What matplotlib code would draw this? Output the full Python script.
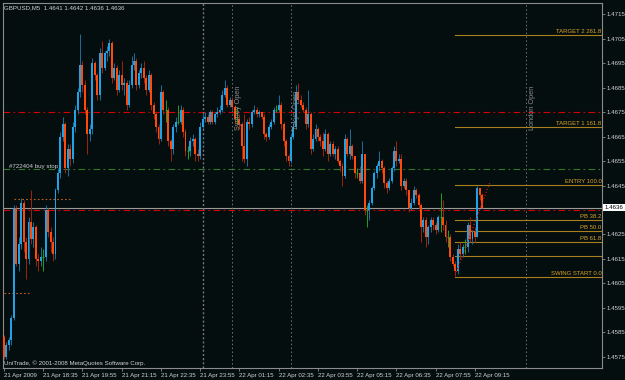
import numpy as np
import matplotlib.pyplot as plt
from matplotlib.transforms import blended_transform_factory

plt.rcParams['font.family'] = ['Liberation Sans', 'DejaVu Sans']

# GBPUSD M5 candles, 21 Apr 17:15 -> 22 Apr 09:30 (open of each bar = previous close)
first_open = 1.4583
close = [1.4575, 1.4580, 1.4582, 1.4591, 1.4636, 1.4613, 1.4621, 1.4638, 1.4622, 1.4615,
         1.4630, 1.4623, 1.4628, 1.4615, 1.4614, 1.4616, 1.4616, 1.4635, 1.4626, 1.4622,
         1.4617, 1.4643, 1.4650, 1.4665, 1.4670, 1.4652, 1.4660, 1.4656, 1.4669, 1.4676,
         1.4683, 1.4694, 1.4686, 1.4676, 1.4666, 1.4668, 1.4695, 1.4690, 1.4682, 1.4699,
         1.4693, 1.4699, 1.4700, 1.4703, 1.4689, 1.4693, 1.4684, 1.4690, 1.4686, 1.4687,
         1.4678, 1.4686, 1.4694, 1.4696, 1.4686, 1.4691, 1.4693, 1.4689, 1.4684, 1.4690,
         1.4678, 1.4674, 1.4669, 1.4664, 1.4683, 1.4676, 1.4676, 1.4663, 1.4660, 1.4669,
         1.4671, 1.4671, 1.4676, 1.4667, 1.4659, 1.4659, 1.4663, 1.4664, 1.4658, 1.4657,
         1.4669, 1.4672, 1.4673, 1.4671, 1.4675, 1.4671, 1.4674, 1.4675, 1.4676, 1.4682,
         1.4685, 1.4678, 1.4680, 1.4677, 1.4672, 1.4672, 1.4670, 1.4661, 1.4656, 1.4671,
         1.4670, 1.4675, 1.4676, 1.4674, 1.4675, 1.4673, 1.4666, 1.4665, 1.4669, 1.4671,
         1.4676, 1.4676, 1.4678, 1.4670, 1.4663, 1.4657, 1.4655, 1.4665, 1.4669, 1.4683,
         1.4680, 1.4678, 1.4676, 1.4670, 1.4674, 1.4660, 1.4664, 1.4668, 1.4665, 1.4663,
         1.4660, 1.4666, 1.4658, 1.4662, 1.4658, 1.4660, 1.4655, 1.4653, 1.4649, 1.4664,
         1.4658, 1.4661, 1.4657, 1.4650, 1.4650, 1.4647, 1.4658, 1.4635, 1.4635, 1.4638,
         1.4644, 1.4650, 1.4653, 1.4655, 1.4652, 1.4646, 1.4644, 1.4647, 1.4652, 1.4659,
         1.4655, 1.4656, 1.4645, 1.4647, 1.4643, 1.4636, 1.4638, 1.4643, 1.4641, 1.4637,
         1.4628, 1.4631, 1.4624, 1.4628, 1.4631, 1.4629, 1.4627, 1.4632, 1.4632, 1.4629,
         1.4624, 1.4624, 1.4616, 1.4613, 1.4610, 1.4619, 1.4617, 1.4620, 1.4620, 1.4629,
         1.4623, 1.4626, 1.4624, 1.4644, 1.4641, 1.4636]
high = [1.4584, 1.4581, 1.4583, 1.4592, 1.4637, 1.4637, 1.4624, 1.4640, 1.4639, 1.4624,
        1.4632, 1.4643, 1.4630, 1.4629, 1.4617, 1.4620, 1.4619, 1.4637, 1.4636, 1.4628,
        1.4624, 1.4644, 1.4652, 1.4667, 1.4673, 1.4671, 1.4662, 1.4662, 1.4671, 1.4678,
        1.4685, 1.4707, 1.4696, 1.4688, 1.4677, 1.4670, 1.4697, 1.4696, 1.4691, 1.4701,
        1.4704, 1.4700, 1.4702, 1.4705, 1.4704, 1.4695, 1.4694, 1.4692, 1.4696, 1.4689,
        1.4688, 1.4688, 1.4698, 1.4699, 1.4697, 1.4692, 1.4695, 1.4696, 1.4690, 1.4692,
        1.4691, 1.4679, 1.4675, 1.4670, 1.4686, 1.4684, 1.4680, 1.4677, 1.4664, 1.4670,
        1.4673, 1.4678, 1.4678, 1.4677, 1.4668, 1.4661, 1.4665, 1.4666, 1.4665, 1.4660,
        1.4671, 1.4674, 1.4675, 1.4674, 1.4676, 1.4676, 1.4675, 1.4677, 1.4678, 1.4684,
        1.4688, 1.4686, 1.4681, 1.4681, 1.4678, 1.4677, 1.4674, 1.4671, 1.4674, 1.4672,
        1.4673, 1.4676, 1.4678, 1.4677, 1.4676, 1.4675, 1.4674, 1.4667, 1.4670, 1.4672,
        1.4677, 1.4678, 1.4682, 1.4679, 1.4671, 1.4664, 1.4658, 1.4666, 1.4671, 1.4686,
        1.4687, 1.4682, 1.4679, 1.4677, 1.4684, 1.4675, 1.4666, 1.4670, 1.4669, 1.4666,
        1.4667, 1.4668, 1.4667, 1.4663, 1.4663, 1.4661, 1.4661, 1.4656, 1.4654, 1.4666,
        1.4665, 1.4668, 1.4662, 1.4657, 1.4652, 1.4653, 1.4663, 1.4658, 1.4637, 1.4639,
        1.4645, 1.4651, 1.4654, 1.4659, 1.4656, 1.4653, 1.4647, 1.4648, 1.4653, 1.4661,
        1.4663, 1.4658, 1.4658, 1.4648, 1.4648, 1.4643, 1.4640, 1.4645, 1.4644, 1.4642,
        1.4638, 1.4632, 1.4632, 1.4629, 1.4632, 1.4632, 1.4630, 1.4633, 1.4642, 1.4639,
        1.4631, 1.4627, 1.4625, 1.4617, 1.4614, 1.4621, 1.4622, 1.4621, 1.4623, 1.4630,
        1.4632, 1.4627, 1.4628, 1.4645, 1.4644, 1.4642]
low = [1.4574, 1.4574, 1.4578, 1.4580, 1.4590, 1.4612, 1.4610, 1.4619, 1.4618, 1.4607,
       1.4613, 1.4621, 1.4620, 1.4612, 1.4610, 1.4612, 1.4610, 1.4614, 1.4624, 1.4618,
       1.4614, 1.4615, 1.4642, 1.4648, 1.4663, 1.4650, 1.4649, 1.4653, 1.4654, 1.4667,
       1.4674, 1.4681, 1.4683, 1.4674, 1.4658, 1.4663, 1.4666, 1.4688, 1.4680, 1.4680,
       1.4691, 1.4692, 1.4696, 1.4698, 1.4687, 1.4688, 1.4682, 1.4683, 1.4684, 1.4682,
       1.4676, 1.4677, 1.4685, 1.4692, 1.4684, 1.4685, 1.4689, 1.4687, 1.4682, 1.4683,
       1.4676, 1.4672, 1.4667, 1.4662, 1.4663, 1.4674, 1.4671, 1.4661, 1.4655, 1.4658,
       1.4667, 1.4670, 1.4670, 1.4665, 1.4657, 1.4656, 1.4657, 1.4661, 1.4655, 1.4655,
       1.4656, 1.4668, 1.4671, 1.4670, 1.4670, 1.4670, 1.4670, 1.4673, 1.4674, 1.4675,
       1.4681, 1.4677, 1.4677, 1.4676, 1.4670, 1.4670, 1.4668, 1.4655, 1.4654, 1.4653,
       1.4668, 1.4669, 1.4674, 1.4673, 1.4673, 1.4672, 1.4664, 1.4663, 1.4664, 1.4668,
       1.4670, 1.4675, 1.4675, 1.4668, 1.4661, 1.4655, 1.4653, 1.4654, 1.4664, 1.4668,
       1.4679, 1.4677, 1.4675, 1.4668, 1.4669, 1.4658, 1.4659, 1.4663, 1.4663, 1.4661,
       1.4657, 1.4659, 1.4655, 1.4657, 1.4657, 1.4656, 1.4654, 1.4651, 1.4645, 1.4648,
       1.4657, 1.4656, 1.4656, 1.4648, 1.4648, 1.4646, 1.4646, 1.4633, 1.4628, 1.4631,
       1.4637, 1.4643, 1.4648, 1.4651, 1.4650, 1.4644, 1.4642, 1.4643, 1.4646, 1.4651,
       1.4653, 1.4654, 1.4643, 1.4644, 1.4641, 1.4634, 1.4635, 1.4637, 1.4640, 1.4636,
       1.4622, 1.4626, 1.4620, 1.4621, 1.4626, 1.4627, 1.4625, 1.4626, 1.4626, 1.4627,
       1.4622, 1.4620, 1.4614, 1.4612, 1.4608, 1.4609, 1.4615, 1.4616, 1.4617, 1.4618,
       1.4622, 1.4621, 1.4622, 1.4624, 1.4639, 1.4636]

time_labels = ['21 Apr 2009', '21 Apr 18:35', '21 Apr 19:55', '21 Apr 21:15', '21 Apr 22:35',
               '21 Apr 23:55', '22 Apr 01:15', '22 Apr 02:35', '22 Apr 03:55', '22 Apr 05:15',
               '22 Apr 06:35', '22 Apr 07:55', '22 Apr 09:15']
bars_per_label = 16

price_ticks = [1.4575, 1.4585, 1.4595, 1.4605, 1.4615, 1.4625, 1.4635, 1.4645,
               1.4655, 1.4665, 1.4675, 1.4685, 1.4695, 1.4705, 1.4715]

fib_levels = [1.46077, 1.46162, 1.46220, 1.46265, 1.46309, 1.46452, 1.46689, 1.47064]
fib_names = ['SWING START 0.0', '', 'PB 61.8', 'PB 50.0', 'PB 38.2',
             'ENTRY 100.0', 'TARGET 1 161.8', 'TARGET 2 261.8']
fib_start = 184

red_levels = [1.4675, 1.4635]
buy_stop = 1.46517
bid = 1.4636

day_separator = 81
session_names = ['Sydney Open', 'Tokyo Open', 'London Open']
session_bars = [93, 117, 213]

trend_x = [184, 198]
trend_y = [1.46085, 1.46460]

short_x = [(4, 27), (0, 11)]
short_y = [1.46395, 1.46010]

bg = '#040e0e'
fg = '#8c8c8c'
txt = '#d2d2d2'

c = np.array(close)
o = np.array([first_open] + close[:-1])
h = np.array(high)
l = np.array(low)
x = np.arange(len(c))
up = c > o
dn = c < o
dj = c == o

fig = plt.figure(figsize=(6.25, 3.8), dpi=100, facecolor=bg)
ax = fig.add_axes([3 / 625, 12 / 380, 599 / 625, 365 / 380])
ax.set_facecolor(bg)

# horizontal objects
for lv in red_levels:
    ax.axhline(lv, color='#d40000', lw=0.8, ls=(0, (6, 3, 1.5, 3)), zorder=1)
ax.axhline(buy_stop, color='#2f7a2a', lw=0.8, ls=(0, (6, 3, 1.5, 3)), zorder=1)
ax.axhline(bid, color='#9a9a9a', lw=0.8, zorder=1)
for (x0, x1), yy in zip(short_x, short_y):
    ax.plot([x0, x1], [yy, yy], color='#c0601c', lw=0.8, ls=(0, (1.5, 2)), zorder=1)

# vertical objects
ax.axvline(day_separator, color='#767676', lw=1.0, ls=(0, (1.5, 1.5)), zorder=1)
for name, b in zip(session_names, session_bars):
    ax.axvline(b, color='#747474', lw=0.7, ls=(0, (1.5, 2.5)), zorder=1)
    ax.text(b + 1.0, 1.46677, name, rotation=90, ha='left', va='bottom',
            color='#8a8a8a', fontsize=5.3, zorder=4)

# fibonacci levels
for lv, name in zip(fib_levels, fib_names):
    ax.plot([fib_start, 250], [lv, lv], color='#a87e1e', lw=0.8, zorder=1)
    if name:
        ax.text(243.6, lv + 0.00003, name, ha='right', va='bottom',
                color='#dca426', fontsize=4.3, zorder=4)

# candles
w = 0.8
ax.vlines(x[up], l[up], h[up], color='#1b6e9c', lw=0.7, zorder=2)
ax.bar(x[up], (c - o)[up], bottom=o[up], width=w, color='#1fa2e6', lw=0, zorder=3)
ax.vlines(x[dn], l[dn], h[dn], color='#a0240a', lw=0.7, zorder=2)
ax.bar(x[dn], (o - c)[dn], bottom=c[dn], width=w, color='#ff4a0c', lw=0, zorder=3)
ax.vlines(x[dj], l[dj], h[dj], color='#23a023', lw=0.7, zorder=2)
ax.hlines(c[dj], x[dj] - w / 2, x[dj] + w / 2, color='#23a023', lw=0.8, zorder=3)

ax.plot(trend_x, trend_y, color='#c81414', lw=0.9, ls=(0, (1, 1.5)), zorder=4)

ax.set_xlim(-0.4, 243.8)
ax.set_ylim(1.45705, 1.47195)

# axes styling
for s in ax.spines.values():
    s.set_color(fg)
    s.set_linewidth(0.8)
ax.yaxis.tick_right()
ax.set_yticks(price_ticks)
# the 1.4635 label sits under the current-price box, as in the terminal
ax.set_yticklabels(['' if abs(p - bid) < 0.0002 else '%.4f' % p for p in price_ticks])
ax.tick_params(axis='y', colors=fg, labelcolor=txt, labelsize=4.4, length=2, width=0.6, pad=1.5)
ax.set_xticks(np.arange(len(time_labels)) * bars_per_label)
ax.set_xticklabels(time_labels, ha='left')
ax.tick_params(axis='x', colors=fg, labelcolor=txt, labelsize=4.4, length=2.5, width=0.6, pad=1)

# texts
ax.text(0.002, 0.986, 'GBPUSD,M5  1.4641 1.4642 1.4636 1.4636', transform=ax.transAxes,
        ha='left', va='center', color=txt, fontsize=4.4, zorder=5)
ax.text(2, buy_stop + 0.00002, '#722404 buy stop', ha='left', va='bottom',
        color=txt, fontsize=4.4, zorder=5)
ax.text(0.002, 0.014, 'UniTrade, \u00a9 2001-2008 MetaQuotes Software Corp.', transform=ax.transAxes,
        ha='left', va='center', color=txt, fontsize=4.4, zorder=5)
tr = blended_transform_factory(ax.transAxes, ax.transData)
ax.text(1.004, bid, '1.4636', transform=tr, ha='left', va='center', color='black',
        fontsize=4.4, zorder=6, clip_on=False,
        bbox=dict(facecolor='white', edgecolor='none', pad=1.0))

fig.savefig('out.png', dpi=100, facecolor=bg)
